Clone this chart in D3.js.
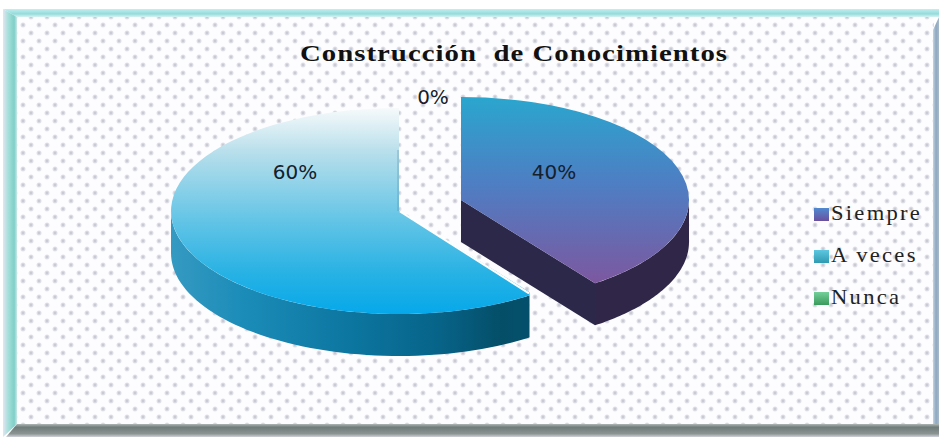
<!DOCTYPE html>
<html><head><meta charset="utf-8">
<script src="https://cdn.jsdelivr.net/npm/d3@7/dist/d3.min.js"></script>
<style>html,body{margin:0;padding:0;background:#fff}svg{display:block}</style></head>
<body><svg id="c" width="939" height="437"></svg>
<script>
const categories = ["Siempre","A veces","Nunca"];
const values = [40,60,0];
const labels = ["40%","60%","0%"];
const titleText = "Construcción  de Conocimientos";

const svg = d3.select("#c");
const defs = svg.append("defs");
const grad = (id,x1,y1,x2,y2,stops,user) => {
  const g = defs.append("linearGradient").attr("id",id)
    .attr("x1",x1).attr("y1",y1).attr("x2",x2).attr("y2",y2);
  if(user) g.attr("gradientUnits","userSpaceOnUse");
  stops.forEach(s=>g.append("stop").attr("offset",s[0]).attr("stop-color",s[1]));
};
const pat = defs.append("pattern").attr("id","dots").attr("width",16).attr("height",16).attr("patternUnits","userSpaceOnUse").attr("x",3).attr("y",5);
pat.append("rect").attr("width",16).attr("height",16).attr("fill","#fdfdff");
[[4,4],[12,12]].forEach(p=>{
  pat.append("circle").attr("cx",p[0]).attr("cy",p[1]).attr("r",2.5).attr("fill","#e2e2e9");
  pat.append("circle").attr("cx",p[0]).attr("cy",p[1]).attr("r",1.4).attr("fill","#c9cad3");
});
grad("w60",171,0,530,0,[[0,"#359ac2"],[0.2,"#1b8cb8"],[0.5,"#0c76a0"],[0.75,"#076388"],[0.92,"#044e68"],[1,"#04506c"]],true);
grad("b1",0,0,0,1,[[0,"#4f8ad0"],[1,"#6a4f9e"]]);
grad("b2",0,0,0,1,[[0,"#5cc7e0"],[1,"#2f9ab0"]]);
grad("b3",0,0,0,1,[[0,"#74d09a"],[1,"#3a9a5c"]]);
grad("fTop",0,0,0,1,[[0,"#c4eeee"],[0.6,"#93dcdc"],[1,"#d8f2f2"]]);
grad("fLeft",0,0,1,0,[[0,"#e4e4f2"],[0.35,"#a8e0dc"],[0.8,"#7fcfc8"],[1,"#c8e8e8"]]);
grad("fRight",0,0,1,0,[[0,"#c4d4e0"],[0.5,"#8fa8c0"],[1,"#a8bacb"]]);
grad("fBottom",0,0,0,1,[[0,"#aeb6b4"],[0.25,"#6f7c7a"],[0.75,"#8c9492"],[1,"#d0d2da"]]);

// frame
svg.append("rect").attr("width",939).attr("height",437).attr("fill","#fff");
svg.append("rect").attr("x",17).attr("y",16).attr("width",917).attr("height",409).attr("fill","url(#dots)");
svg.append("path").attr("d","M3,9H939V17H17Z").attr("fill","url(#fTop)");
svg.append("path").attr("d","M3,9L17,17V424L3,437Z").attr("fill","url(#fLeft)");
svg.append("path").attr("d","M939,17L933,30V424L939,430Z").attr("fill","url(#fRight)");
svg.append("path").attr("d","M17,424H933L939,424V437H6Z").attr("fill","url(#fBottom)");

// pie
const rx = 228, ry = 103, depth = 42;
const centers = [[461,200],[399,211]];
const arcs = d3.pie().sort(null).value(d=>d)(values);
const pt = (c,a,dy=0)=>[c[0]+rx*Math.sin(a), c[1]-ry*Math.cos(a)+dy];
const sector = d3.arc().innerRadius(0).outerRadius(1);
const clampWall = (a,b)=>[Math.max(a,Math.PI/2),Math.min(b,3*Math.PI/2)];
function wall(c,a0,a1){
  const p=d3.path();
  const A=pt(c,a0);
  p.moveTo(A[0],A[1]);
  const n=d3.range(0,61).map(i=>a0+(a1-a0)*i/60);
  n.forEach(a=>{const q=pt(c,a);p.lineTo(q[0],q[1]);});
  n.reverse().forEach(a=>{const q=pt(c,a,depth);p.lineTo(q[0],q[1]);});
  p.closePath();
  return p.toString();
}
const toLocal=(y,c)=>(y-c[1])/ry;
grad("g40u",0,toLocal(97,centers[0]),0,toLocal(285,centers[0]),[[0,"#2aa6ce"],[0.45,"#4d7fc4"],[1,"#7d579f"]],true);
grad("g60u",0,toLocal(108,centers[1]),0,toLocal(314,centers[1]),[[0,"#f6fafb"],[0.22,"#b6deeb"],[0.55,"#62c4e6"],[0.8,"#28b2e4"],[1,"#06a8ea"]],true);
defs.append("clipPath").attr("id","clip60").append("rect").attr("x",0).attr("y",0).attr("width",529.5).attr("height",437);

// 60% slice
{
  const d=arcs[1], c=centers[1];
  const g=svg.append("g").attr("clip-path","url(#clip60)");
  const [a0,a1]=clampWall(d.startAngle,d.endAngle);
  g.append("path").attr("d",wall(c,a0,a1)).attr("fill","url(#w60)");
  g.append("path").attr("transform",`translate(${c[0]},${c[1]}) scale(${rx},${ry})`).attr("d",sector(d)).attr("fill","url(#g60u)");
  const tip=pt(c,d.startAngle);
  svg.append("line").attr("x1",c[0]+1).attr("y1",c[1]+0.5).attr("x2",529).attr("y2",tip[1]-1).attr("stroke","#fff").attr("stroke-width",2);
  svg.append("line").attr("x1",c[0]-1).attr("x2",c[0]-1).attr("y1",150).attr("y2",c[1]).attr("stroke","#5f8fa6").attr("stroke-width",1).attr("stroke-opacity",0.6);
}
// 40% slice
{
  const d=arcs[0], c=centers[0];
  const tip=pt(c,d.endAngle);
  svg.append("path").attr("d",`M${c[0]},${c[1]}L${tip[0]},${tip[1]}V${tip[1]+depth}L${c[0]},${c[1]+depth}Z`).attr("fill","#2b2849");
  const [a0,a1]=clampWall(d.startAngle,d.endAngle);
  svg.append("path").attr("d",wall(c,a0,a1)).attr("fill","#2f2648");
  svg.append("path").attr("transform",`translate(${c[0]},${c[1]}) scale(${rx},${ry})`).attr("d",sector(d)).attr("fill","url(#g40u)");
}

// slice labels
const lpos=[[295,173],[554,173],[433,98]];
[1,0,2].forEach((k,i)=>svg.append("text").attr("x",lpos[i][0]).attr("y",lpos[i][1]).attr("text-anchor","middle")
  .attr("dominant-baseline","middle").attr("font-family","'DejaVu Sans',sans-serif").attr("font-size",20).attr("fill","#15202c").text(labels[k]));

// title
svg.append("text").attr("transform","translate(514,61) scale(1.2,1)").attr("text-anchor","middle").style("white-space","pre")
  .attr("font-family","'Liberation Serif',serif").attr("font-weight","bold").attr("font-size",24).attr("letter-spacing",0.85).attr("fill","#111").text(titleText);

// legend
const ly=d3.scalePoint().domain(categories).range([214,298]);
categories.forEach((t,i)=>{
  const y=ly(t);
  svg.append("rect").attr("x",814).attr("y",y-6).attr("width",15).attr("height",13).attr("fill",`url(#b${i+1})`);
  svg.append("text").attr("transform",`translate(831,${y+6}) scale(1.13,1)`).attr("font-family","'Liberation Serif',serif").attr("font-size",20).attr("letter-spacing",2).attr("fill","#222").text(t);
});
</script></body></html>
